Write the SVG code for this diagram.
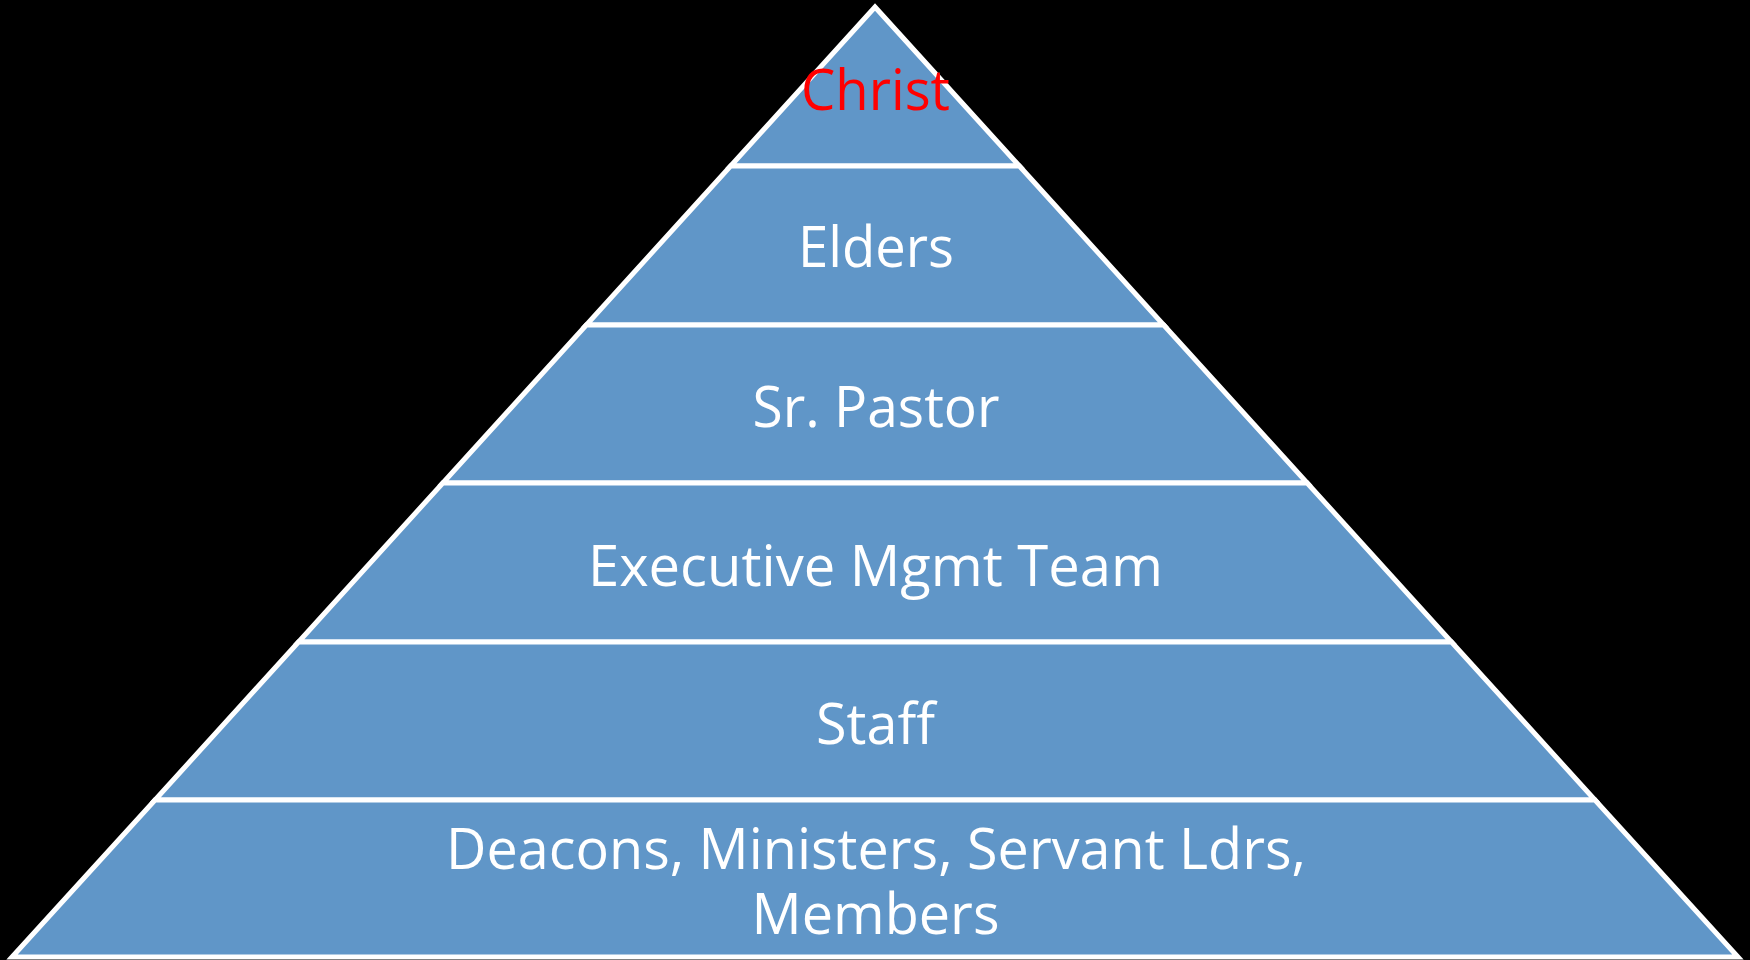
<svg xmlns="http://www.w3.org/2000/svg" width="1750" height="960" viewBox="0 0 1750 960">
  <style>
    .tier { fill: #6096C8; stroke: #FFFFFF; stroke-width: 5; stroke-linejoin: miter; }
    .lbl { font-family: "Open Sans", "Liberation Sans", sans-serif; font-size: 56px; fill: #FFFFFF; text-anchor: middle; }
    .top { fill: #FF0000; }
  </style>
  <rect x="0" y="0" width="1750" height="960" fill="#000000"/>
  <g id="tier-christ">
    <polygon class="tier" points="875,7 1019.4,166 730.6,166"/>
    <text class="lbl top" x="875.5" y="110" textLength="149" lengthAdjust="spacingAndGlyphs">Christ</text>
  </g>
  <g id="tier-elders">
    <polygon class="tier" points="730.6,166 1019.4,166 1163.7,325 586.3,325"/>
    <text class="lbl" x="876" y="267" textLength="156" lengthAdjust="spacingAndGlyphs">Elders</text>
  </g>
  <g id="tier-srpastor">
    <polygon class="tier" points="586.3,325 1163.7,325 1307.2,483 442.8,483"/>
    <text class="lbl" x="876" y="427" textLength="247" lengthAdjust="spacingAndGlyphs">Sr. Pastor</text>
  </g>
  <g id="tier-exec">
    <polygon class="tier" points="442.8,483 1307.2,483 1451.5,642 298.5,642"/>
    <text class="lbl" x="875.5" y="586" textLength="575" lengthAdjust="spacingAndGlyphs">Executive Mgmt Team</text>
  </g>
  <g id="tier-staff">
    <polygon class="tier" points="298.5,642 1451.5,642 1595,800 155,800"/>
    <text class="lbl" x="875.5" y="744" textLength="119" lengthAdjust="spacingAndGlyphs">Staff</text>
  </g>
  <g id="tier-members">
    <polygon class="tier" points="155,800 1595,800 1738,957 12,957"/>
    <text class="lbl"><tspan x="876" y="869" textLength="860" lengthAdjust="spacingAndGlyphs">Deacons, Ministers, Servant Ldrs,</tspan><tspan x="875.5" y="934" textLength="248" lengthAdjust="spacingAndGlyphs">Members</tspan></text>
  </g>
  <g id="connectors"/>
</svg>
